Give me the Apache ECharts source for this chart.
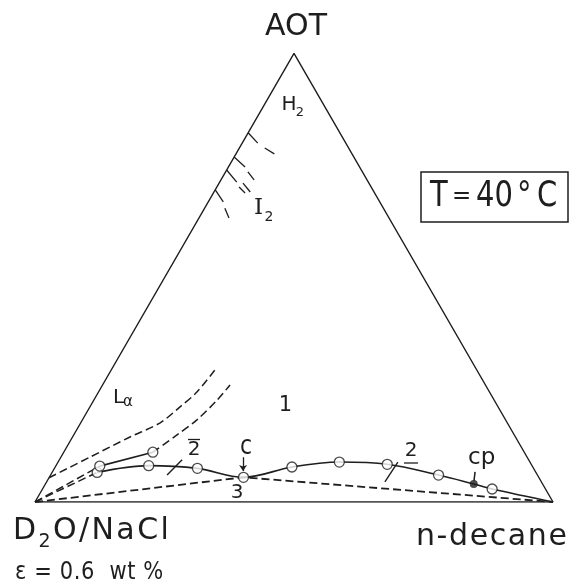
<!DOCTYPE html>
<html>
<head>
<meta charset="utf-8">
<script src="https://cdn.jsdelivr.net/npm/echarts@6/dist/echarts.min.js"></script>
<style>
html, body { margin: 0; padding: 0; background: #fff; }
#chart { width: 579px; height: 584px; }
</style>
</head>
<body>
<div id="chart"></div>
<script>
// Compositions in wt%, written as [AOT, n-decane]; the rest is D2O/NaCl brine.
const binodalLower = [[6.6, 8.7], [8.1, 17.9], [7.5, 27.6], [5.5, 37.5], [7.8, 45.7], [8.9, 54.3],
                      [8.4, 63.8], [6.0, 74.9], [4.0, 82.7], [2.9, 86.8], [0, 100]];
const binodalUpper = [[8.0, 8.5], [11.1, 17.2]];
const measuredPoints = [[6.6, 8.7], [8.1, 17.9], [7.5, 27.6], [5.5, 37.5], [7.8, 45.7], [8.9, 54.3],
                        [8.4, 63.8], [6.0, 74.9], [2.9, 86.8], [8.0, 8.5], [11.1, 17.2]];
const criticalEndPoint = [[4.0, 82.7]];
const threePhaseTriangle = [[0, 0], [5.5, 37.5], [0, 100]];
const brineCornerLines = [[[0, 0], [8.0, 8.5]], [[0, 0], [6.6, 8.7]]];
const lamellarOuter = [[5.4, 0], [10.0, 5.6], [14.5, 11.1], [17.6, 15.3], [21.2, 17.4], [24.5, 19.0], [29.4, 20.0]];
const lamellarInner = [[11.1, 17.2], [14.9, 19.9], [18.3, 22.1], [22.7, 23.8], [26.1, 24.6]];
const tieLines = [[[6.0, 22.5], [9.4, 23.7]], [[4.5, 65.3], [8.9, 65.6]]];
const cubicBoundaryMarks = [
  [[82.3, 0], [80.0, 3.0]], [[78.9, 4.9], [77.6, 7.4]],
  [[76.9, 0], [74.7, 3.2]], [[73.6, 4.3], [71.8, 6.4]],
  [[74.0, 0], [71.3, 3.3]], [[70.2, 4.3], [68.9, 6.1]], [[71.1, 4.6], [69.1, 7.0]],
  [[69.6, 0], [66.9, 2.9]], [[65.5, 3.9], [63.3, 5.8]]
];
const cPointer = [[10.0, 35.2], [6.9, 36.7]];
const cpPointer = [[6.7, 81.6], [4.7, 82.4]];
const corners = [[0, 0], [0, 100], [100, 0], [0, 0]];

const H = Math.sqrt(3) / 2;
// ternary composition -> cartesian position in the unit-side triangle
const toXY = ([aot, dec]) => [dec / 100 + aot / 200, aot / 100 * H];

const INK = '#1e1e1e';
const FONT = '"DejaVu Sans"';
const dash = [8, 4];

function text(str, x, y, size, opts = {}) {
  return {
    type: 'text', x, y,
    scaleY: opts.scaleY || 1,
    style: {
      text: str,
      font: size + 'px ' + (opts.family || FONT),
      fill: INK,
      align: opts.align || 'left', textAlign: opts.align || 'left',
      verticalAlign: 'middle', textVerticalAlign: 'middle'
    },
    silent: true
  };
}
const measure = document.createElement('canvas').getContext('2d');
// lay out pieces left to right: [string, fontSize, yOffset]; extra space between glyphs
function flow(pieces, x, y, spacing, scaleY) {
  const out = [];
  let cx = x;
  for (const [str, size, dy] of pieces) {
    measure.font = size + 'px ' + FONT;
    for (const ch of str) {
      out.push(text(ch, cx, y + (dy || 0), size, { scaleY }));
      cx += measure.measureText(ch).width + spacing;
    }
  }
  return out;
}
function rule(x1, y1, x2, y2, w) {
  return { type: 'line', shape: { x1, y1, x2, y2 }, style: { stroke: INK, lineWidth: w || 1.3 }, silent: true };
}

const graphics = [
  text('AOT', 296, 27.5, 30, { align: 'center' }),
  // brine corner
  ...flow([['D', 30], ['2', 19, 11], ['O/NaCl', 30]], 13, 531.5, 2.4),
  ...flow([['ε', 21], [' = ', 21], ['0.6', 21], ['  ', 21], ['wt', 21], [' ', 21], ['%', 21]], 15, 572.5, 0.6, 1.15),
  // oil corner
  ...flow([['n-decane', 30]], 416, 537.6, 1.6),
  // temperature box
  { type: 'rect', shape: { x: 421, y: 172, width: 147, height: 50 }, style: { fill: 'none', stroke: INK, lineWidth: 1.5 }, silent: true },
  text('T', 430, 196.5, 29, { scaleY: 1.25 }), text('=', 452, 196.5, 23, { scaleY: 1.1 }),
  text('40', 476, 196.5, 29, { scaleY: 1.25 }), text('°', 517, 196.5, 29, { scaleY: 1.25 }),
  text('C', 537, 196.5, 29, { scaleY: 1.25 }),
  // phase region labels
  text('1', 285.5, 406, 21, { align: 'center' }),
  text('c', 246, 447, 22, { align: 'center', scaleY: 1.2 }),
  text('3', 237, 492.5, 20, { align: 'center' }),
  text('cp', 468, 458.5, 23),
  text('2', 194, 450, 20, { align: 'center' }), rule(188, 439.5, 200, 439.5),
  text('2', 411, 450.5, 20, { align: 'center' }), rule(404, 463, 418, 463),
  text('L', 113, 397.5, 20), text('α', 123, 402, 15),
  text('H', 289, 104.5, 20, { align: 'center' }), text('2', 300, 113, 13, { align: 'center' }),
  text('I', 258.5, 208.5, 23, { align: 'center', family: '"DejaVu Serif"' }),
  text('2', 269, 217, 14, { align: 'center' })
];

const lineSeries = (data, style, extra = {}) => Object.assign({
  type: 'line', data: data.map(toXY), symbol: 'none', silent: true,
  lineStyle: Object.assign({ color: INK, width: 1.5 }, style)
}, extra);

const segSeries = (segs, style, extra = {}) => Object.assign({
  type: 'lines', coordinateSystem: 'cartesian2d', silent: true,
  data: segs.map(s => ({ coords: s.map(toXY) })),
  lineStyle: Object.assign({ color: INK, width: 1.4, opacity: 1 }, style)
}, extra);

const chart = echarts.init(document.getElementById('chart'), null, { renderer: 'canvas' });
chart.setOption({
  animation: false,
  backgroundColor: '#fff',
  grid: { left: 35, top: 502 - 518 * H, width: 518, height: 518 * H },
  xAxis: { type: 'value', min: 0, max: 1, show: false },
  yAxis: { type: 'value', min: 0, max: H, show: false },
  graphic: graphics,
  series: [
    lineSeries(corners, { width: 1.4 }),
    lineSeries(binodalLower, { width: 1.6 }, { smooth: 0.35 }),
    lineSeries(binodalUpper, { width: 1.6 }),
    lineSeries(threePhaseTriangle, { width: 1.8, type: dash }),
    lineSeries(lamellarOuter, { width: 1.5, type: dash }, { smooth: 0.3 }),
    lineSeries(lamellarInner, { width: 1.5, type: dash }, { smooth: 0.3 }),
    segSeries(brineCornerLines, { width: 1.5, type: dash }),
    segSeries(tieLines, { width: 1.4 }),
    segSeries(cubicBoundaryMarks, { width: 1.3 }),
    segSeries([cPointer], { width: 1.3 }, { symbol: ['none', 'arrow'], symbolSize: [0, 6] }),
    segSeries([cpPointer], { width: 1.5 }),
    {
      type: 'scatter', silent: true, z: 5,
      data: measuredPoints.map(toXY), symbol: 'circle', symbolSize: 10,
      itemStyle: { color: '#fff', borderColor: INK, borderWidth: 1.3 }
    },
    {
      type: 'scatter', silent: true, z: 5,
      data: criticalEndPoint.map(toXY), symbol: 'circle', symbolSize: 8,
      itemStyle: { color: INK }
    }
  ]
});
</script>
</body>
</html>
